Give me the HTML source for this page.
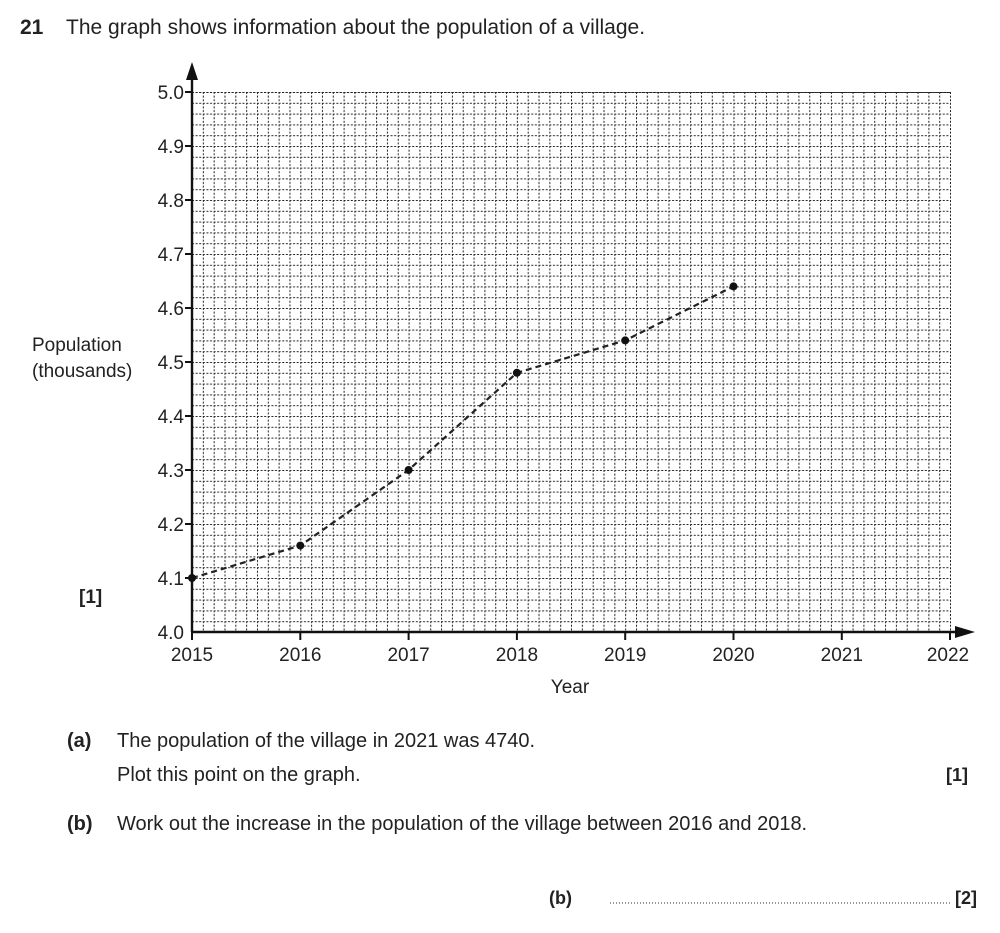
<!DOCTYPE html>
<html><head><style>
body{margin:0;background:#fff;width:1000px;height:933px;overflow:hidden;font-family:"Liberation Sans",Arial,sans-serif;color:#222}
svg{position:absolute;left:0;top:0}
</style></head><body>
<svg width="1000" height="933" viewBox="0 0 1000 933" font-family="Liberation Sans, Arial, sans-serif" fill="#222">
<defs>
<pattern id="g" x="192" y="92" width="10.829" height="10.8" patternUnits="userSpaceOnUse">
<line x1="0" y1="0.5" x2="10.829" y2="0.5" stroke="#222" stroke-width="1" stroke-dasharray="2,1.6"/>
<line x1="0.5" y1="0" x2="0.5" y2="10.8" stroke="#222" stroke-width="1" stroke-dasharray="2,1.6"/>
</pattern>
</defs>
<rect x="192" y="92" width="758" height="540" fill="url(#g)"/>
<line x1="192" y1="92.5" x2="950" y2="92.5" stroke="#222" stroke-width="1" stroke-dasharray="2,1.6"/>
<line x1="950.5" y1="92" x2="950.5" y2="632" stroke="#222" stroke-width="1" stroke-dasharray="2,1.6"/>
<line x1="192" y1="632" x2="192" y2="78" stroke="#111" stroke-width="2.4"/>
<polygon points="192,62 186,80 198,80" fill="#111"/>
<line x1="192" y1="632" x2="958" y2="632" stroke="#111" stroke-width="2.4"/>
<polygon points="975,632 955,626 955,638" fill="#111"/>
<g stroke="#111" stroke-width="2">
<line x1="185" y1="92" x2="192" y2="92"/><line x1="185" y1="146" x2="192" y2="146"/><line x1="185" y1="200" x2="192" y2="200"/><line x1="185" y1="254" x2="192" y2="254"/><line x1="185" y1="308" x2="192" y2="308"/><line x1="185" y1="362" x2="192" y2="362"/><line x1="185" y1="416" x2="192" y2="416"/><line x1="185" y1="470" x2="192" y2="470"/><line x1="185" y1="524" x2="192" y2="524"/><line x1="185" y1="578" x2="192" y2="578"/>
<line x1="192" y1="632" x2="192" y2="640"/><line x1="300.3" y1="632" x2="300.3" y2="640"/><line x1="408.6" y1="632" x2="408.6" y2="640"/><line x1="516.9" y1="632" x2="516.9" y2="640"/><line x1="625.2" y1="632" x2="625.2" y2="640"/><line x1="733.5" y1="632" x2="733.5" y2="640"/><line x1="841.8" y1="632" x2="841.8" y2="640"/><line x1="950" y1="632" x2="950" y2="640"/>
</g>
<g font-size="19" text-anchor="end">
<text x="184" y="99">5.0</text><text x="184" y="153">4.9</text><text x="184" y="207">4.8</text><text x="184" y="261">4.7</text><text x="184" y="315">4.6</text><text x="184" y="369">4.5</text><text x="184" y="423">4.4</text><text x="184" y="477">4.3</text><text x="184" y="531">4.2</text><text x="184" y="585">4.1</text><text x="184" y="639">4.0</text>
</g>
<g font-size="19" text-anchor="middle">
<text x="192" y="661">2015</text><text x="300.3" y="661">2016</text><text x="408.6" y="661">2017</text><text x="516.9" y="661">2018</text><text x="625.2" y="661">2019</text><text x="733.5" y="661">2020</text><text x="841.8" y="661">2021</text><text x="948" y="661">2022</text>
<text x="570" y="693">Year</text>
</g>
<text x="32" y="351" font-size="19">Population</text>
<text x="32" y="377" font-size="19">(thousands)</text>
<text x="79" y="603" font-size="19" font-weight="bold">[1]</text>
<polyline points="192,578 300.3,545.6 408.6,470 516.9,372.8 625.2,340.4 733.5,286.4" fill="none" stroke="#222" stroke-width="2.2" stroke-dasharray="6,4"/>
<g fill="#111"><circle cx="192" cy="578" r="4"/><circle cx="300.3" cy="545.6" r="4"/><circle cx="408.6" cy="470" r="4"/><circle cx="516.9" cy="372.8" r="4"/><circle cx="625.2" cy="340.4" r="4"/><circle cx="733.5" cy="286.4" r="4"/></g>
<text x="20" y="34" font-size="21" font-weight="bold">21</text>
<text x="66" y="34" font-size="21">The graph shows information about the population of a village.</text>
<text x="67" y="747" font-size="20" font-weight="bold">(a)</text>
<text x="117" y="747" font-size="20">The population of the village in 2021 was 4740.</text>
<text x="117" y="781" font-size="20">Plot this point on the graph.</text>
<text x="946" y="781" font-size="18" font-weight="bold">[1]</text>
<text x="67" y="830" font-size="20" font-weight="bold">(b)</text>
<text x="117" y="830" font-size="20">Work out the increase in the population of the village between 2016 and 2018.</text>
<text x="549" y="904" font-size="18" font-weight="bold">(b)</text>
<line x1="610" y1="903" x2="950" y2="903" stroke="#333" stroke-width="1" stroke-dasharray="1,2"/>
<text x="955" y="904" font-size="18" font-weight="bold">[2]</text>
</svg>
</body></html>
